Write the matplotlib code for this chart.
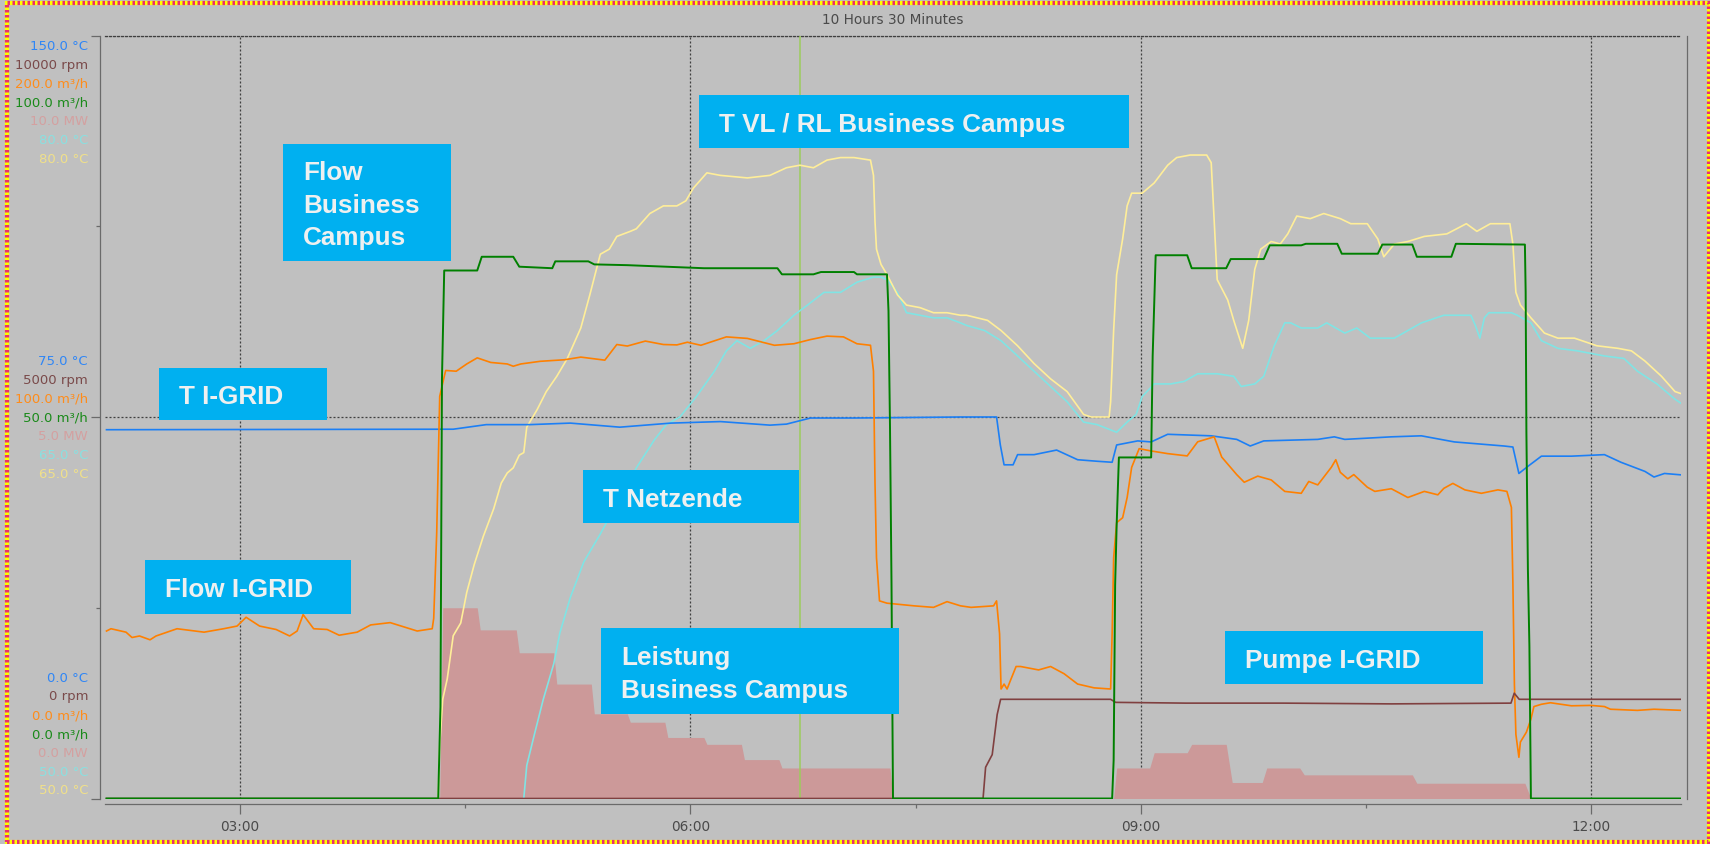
import matplotlib
matplotlib.use("Agg")
import matplotlib.pyplot as plt
from matplotlib.patches import Rectangle
from matplotlib.ticker import FixedLocator, FuncFormatter

W, H = 1710, 845
BG = '#c0c0c0'

# time window (hours of the day) and cursor position
t_start, t_end = 2.1, 12.6
cursor_time = 6.73

# one value scale per series: name, low, high, unit, label colour
axis_names = ['T I-GRID', 'Pumpe I-GRID', 'Flow I-GRID', 'Flow Business Campus',
              'Leistung Business Campus', 'T Netzende', 'T VL / RL Business Campus']
axis_lo = [0, 0, 0, 0, 0, 50, 50]
axis_hi = [150, 10000, 200, 100, 10, 80, 80]
axis_units = ['°C', 'rpm', 'm³/h', 'm³/h', 'MW', '°C', '°C']
label_colors = ['#2f86f6', '#7a4a4a', '#ff8c1a', '#1a8a1a', '#d4a0a0', '#8ae0e0', '#f0e08a']

# T I-GRID (°C)
blue_t = [2.11, 4.42, 4.64, 4.93, 5.20, 5.53, 5.87, 6.20, 6.53, 6.64, 6.80, 7.09, 7.80, 8.04,
          8.065, 8.09, 8.15, 8.18, 8.29, 8.44, 8.58, 8.71, 8.81, 8.84, 8.98, 9.07, 9.18, 9.47,
          9.64, 9.73, 9.82, 10.18, 10.29, 10.36, 10.67, 10.87, 11.09, 11.42, 11.48, 11.52,
          11.58, 11.67, 11.87, 12.09, 12.20, 12.36, 12.42, 12.49, 12.61]
blue_v = [72.5, 72.6, 73.5, 73.5, 73.8, 73.0, 73.8, 74.1, 73.4, 73.6, 74.8, 74.8, 75.0, 75.0,
          69.5, 65.6, 65.6, 67.6, 67.6, 68.5, 66.6, 66.3, 66.1, 69.5, 70.3, 70.1, 71.6, 71.3,
          70.6, 69.3, 70.3, 70.6, 71.1, 70.6, 71.1, 71.3, 70.1, 69.3, 69.1, 63.9,
          65.3, 67.3, 67.3, 67.6, 66.1, 64.3, 63.2, 63.9, 63.6]

# Flow I-GRID (m³/h)
orange_t = [2.11, 2.14, 2.24, 2.28, 2.33, 2.40, 2.44, 2.58, 2.64, 2.76, 2.89, 2.98, 3.04, 3.13,
            3.24, 3.33, 3.38, 3.42, 3.49, 3.58, 3.66, 3.78, 3.87, 4.00, 4.18, 4.28, 4.29, 4.31,
            4.32, 4.33, 4.36, 4.37, 4.44, 4.51, 4.58, 4.67, 4.78, 4.82, 4.87, 5.00, 5.16, 5.27,
            5.43, 5.51, 5.58, 5.70, 5.82, 5.91, 5.98, 6.07, 6.24, 6.38, 6.56, 6.69, 6.80, 6.91,
            7.02, 7.11, 7.20, 7.22, 7.23, 7.24, 7.26, 7.31, 7.49, 7.62, 7.71, 7.80, 7.87, 8.02,
            8.04, 8.06, 8.07, 8.09, 8.11, 8.13, 8.17, 8.20, 8.32, 8.40, 8.49, 8.58, 8.69, 8.80,
            8.81, 8.82, 8.84, 8.88, 8.91, 8.94, 8.99, 9.07, 9.18, 9.31, 9.38, 9.49, 9.54, 9.64,
            9.69, 9.78, 9.87, 9.96, 10.07, 10.12, 10.18, 10.27, 10.30, 10.33, 10.38, 10.42,
            10.51, 10.56, 10.67, 10.78, 10.89, 10.98, 11.02, 11.08, 11.16, 11.27, 11.38, 11.44,
            11.47, 11.48, 11.49, 11.50, 11.52, 11.53, 11.57, 11.60, 11.62, 11.67, 11.73, 11.87,
            12.00, 12.09, 12.13, 12.31, 12.42, 12.61]
orange_v = [43.9, 44.5, 43.6, 42.2, 42.6, 41.6, 42.6, 44.5, 44.2, 43.6, 44.5, 45.2, 47.5, 45.2,
            44.3, 42.6, 43.9, 48.2, 44.5, 44.3, 42.8, 43.6, 45.5, 46.1, 43.9, 44.5, 47.2, 69.7,
            88.2, 105.4, 110.6, 112.2, 112.0, 113.9, 115.5, 114.3, 113.9, 113.3, 113.9, 114.6, 115.0, 115.7,
            114.9, 119.0, 118.6, 119.9, 119.0, 118.9, 119.6, 118.8, 121.0, 120.6, 118.8, 119.2, 120.3, 121.2,
            121.0, 119.2, 118.8, 112.0, 82.9, 63.1, 51.8, 51.2, 50.5, 50.1, 51.6, 50.5, 50.1, 50.5,
            51.8, 43.2, 28.7, 30.0, 28.7, 30.7, 34.6, 34.6, 33.7, 34.6, 32.7, 30.0, 29.0, 28.7,
            43.2, 63.1, 72.3, 73.6, 78.9, 86.8, 91.7, 91.1, 90.4, 89.8, 93.5, 94.8, 89.5, 84.9,
            82.9, 84.5, 83.5, 80.5, 80.0, 83.1, 82.2, 86.8, 88.8, 85.5, 83.8, 84.9,
            81.6, 80.5, 81.2, 78.9, 80.5, 79.6, 81.3, 82.6, 80.9, 80.0, 80.9, 80.5,
            76.3, 56.4, 30.0, 16.8, 10.8, 14.8, 17.4, 20.8, 24.1, 24.7, 25.1, 24.3,
            24.4, 24.1, 23.4, 23.1, 23.4, 23.1]

# Flow Business Campus (m³/h)
green_t = [2.11, 4.32, 4.335, 4.345, 4.36, 4.58, 4.61, 4.82, 4.86, 5.08, 5.10, 5.32, 5.36, 5.58,
           6.09, 6.58, 6.61, 6.82, 6.87, 7.09, 7.11, 7.31, 7.32, 7.33, 7.34, 7.35, 8.81, 8.82,
           8.83, 8.84, 8.855, 9.07, 9.08, 9.10, 9.31, 9.34, 9.57, 9.60, 9.82, 9.86, 10.07, 10.10,
           10.31, 10.34, 10.58, 10.61, 10.81, 10.84, 11.07, 11.10, 11.56, 11.565, 11.57, 11.58,
           11.59, 11.60, 12.61]
green_v = [0, 0, 12, 55, 69.2, 69.2, 71.0, 71.0, 69.7, 69.5, 70.4, 70.4, 70.0, 69.9,
           69.5, 69.5, 68.7, 68.7, 69.0, 69.0, 68.7, 68.7, 63.9, 48.7, 28.2, 0, 0, 5,
           28, 35.8, 44.7, 44.7, 58, 71.2, 71.2, 69.5, 69.5, 70.7, 70.7, 72.5, 72.5, 72.7,
           72.7, 71.4, 71.4, 72.6, 72.6, 71.0, 71.0, 72.7, 72.6, 66.4, 48, 30,
           20, 0, 0]

# Pumpe I-GRID (rpm)
brown_t = [2.11, 7.95, 7.967, 8.011, 8.044, 8.067, 8.40, 8.80, 8.833, 9.30, 9.95, 10.67,
           11.467, 11.489, 11.522, 12.61]
brown_v = [0, 0, 410, 575, 1100, 1300, 1300, 1300, 1260, 1250, 1250, 1240,
           1250, 1380, 1300, 1300]

# Leistung Business Campus (MW)
power_t = [2.11, 4.33, 4.35, 4.58, 4.60, 4.84, 4.86, 5.09, 5.11, 5.34, 5.36, 5.58, 5.60, 5.83,
           5.85, 6.09, 6.11, 6.34, 6.36, 6.59, 6.61, 7.33, 7.35, 8.82, 8.84, 9.06, 9.09, 9.31,
           9.34, 9.57, 9.61, 9.81, 9.84, 10.06, 10.09, 10.81, 10.84, 11.56, 11.60, 12.61]
power_v = [0, 0, 2.50, 2.50, 2.21, 2.21, 1.91, 1.91, 1.50, 1.50, 1.11, 1.11, 1.00, 1.00,
           0.80, 0.80, 0.71, 0.71, 0.51, 0.51, 0.40, 0.40, 0, 0, 0.40, 0.40, 0.60, 0.60,
           0.71, 0.71, 0.21, 0.21, 0.40, 0.40, 0.31, 0.31, 0.20, 0.20, 0, 0]

# T Netzende (°C)
cyan_t = [4.89, 4.91, 4.96, 5.02, 5.09, 5.13, 5.20, 5.29, 5.40, 5.51, 5.64, 5.76, 5.84, 5.93,
          6.04, 6.16, 6.24, 6.31, 6.40, 6.49, 6.58, 6.69, 6.78, 6.89, 7.00, 7.11, 7.22, 7.27,
          7.31, 7.38, 7.44, 7.53, 7.62, 7.71, 7.80, 7.84, 7.96, 8.07, 8.18, 8.29, 8.40, 8.51,
          8.62, 8.71, 8.84, 8.91, 8.97, 9.01, 9.09, 9.20, 9.29, 9.38, 9.51, 9.62, 9.67, 9.76,
          9.82, 9.89, 9.96, 10.00, 10.07, 10.18, 10.24, 10.36, 10.44, 10.53, 10.69, 10.78,
          10.87, 11.02, 11.20, 11.23, 11.26, 11.29, 11.32, 11.47, 11.51, 11.60, 11.67, 11.78,
          11.91, 12.09, 12.22, 12.31, 12.44, 12.56, 12.61]
cyan_v = [50.0, 51.3, 52.5, 53.9, 55.3, 56.5, 57.9, 59.3, 60.4, 61.6, 63.0, 64.1, 64.7, 65.0,
          65.8, 66.8, 67.6, 68.0, 67.7, 68.0, 68.4, 69.0, 69.4, 69.9, 69.9, 70.3, 70.5, 70.5,
          70.4, 69.9, 69.1, 69.0, 68.9, 68.9, 68.7, 68.6, 68.4, 68.0, 67.4, 66.8, 66.2, 65.6,
          64.8, 64.7, 64.4, 64.8, 65.1, 65.8, 66.3, 66.3, 66.4, 66.7, 66.7, 66.6, 66.2, 66.3,
          66.6, 67.8, 68.7, 68.7, 68.5, 68.5, 68.7, 68.3, 68.5, 68.1, 68.1, 68.4,
          68.7, 69.0, 69.0, 68.6, 68.1, 68.9, 69.1, 69.1, 69.0, 68.7, 68.0, 67.7,
          67.6, 67.4, 67.3, 66.8, 66.3, 65.7, 65.5]

# T VL / RL Business Campus (°C)
yellow_t = [4.32, 4.33, 4.35, 4.38, 4.42, 4.47, 4.51, 4.56, 4.62, 4.69, 4.74, 4.78, 4.82, 4.86,
            4.89, 4.91, 4.98, 5.04, 5.11, 5.18, 5.27, 5.33, 5.40, 5.46, 5.51, 5.60, 5.64, 5.73,
            5.82, 5.91, 5.97, 6.02, 6.11, 6.20, 6.38, 6.53, 6.64, 6.73, 6.82, 6.91, 7.00, 7.09,
            7.20, 7.22, 7.23, 7.24, 7.27, 7.31, 7.38, 7.44, 7.53, 7.62, 7.71, 7.80, 7.84, 7.98,
            8.07, 8.18, 8.29, 8.40, 8.51, 8.62, 8.67, 8.79, 8.80, 8.82, 8.84, 8.88, 8.91, 8.94,
            9.01, 9.09, 9.18, 9.24, 9.33, 9.44, 9.47, 9.49, 9.51, 9.58, 9.62, 9.68, 9.72, 9.76,
            9.80, 9.87, 9.93, 9.98, 10.04, 10.13, 10.22, 10.33, 10.40, 10.51, 10.58, 10.62,
            10.69, 10.78, 10.89, 11.04, 11.17, 11.24, 11.33, 11.46, 11.48, 11.50, 11.53, 11.60,
            11.69, 11.78, 11.89, 12.04, 12.18, 12.27, 12.36, 12.47, 12.56, 12.61]
yellow_v = [50.0, 52.1, 53.9, 54.7, 56.4, 56.9, 58.1, 59.2, 60.3, 61.4, 62.4, 62.8, 63.0, 63.5,
            63.6, 64.6, 65.3, 66.0, 66.6, 67.3, 68.5, 69.8, 71.4, 71.6, 72.1, 72.3, 72.4, 73.0,
            73.3, 73.3, 73.5, 74.0, 74.6, 74.5, 74.4, 74.5, 74.8, 74.9, 74.8, 75.1, 75.2, 75.2,
            75.1, 74.5, 72.7, 71.6, 71.0, 70.6, 69.8, 69.4, 69.3, 69.1, 69.1, 69.0, 69.0, 68.8,
            68.4, 67.8, 67.1, 66.5, 66.0, 65.1, 65.0, 65.0, 65.6, 68.4, 70.6, 72.0, 73.3, 73.8,
            73.8, 74.2, 74.9, 75.2, 75.3, 75.3, 75.0, 72.7, 70.4, 69.6, 68.8, 67.7, 68.8, 70.8,
            71.6, 71.9, 71.8, 72.2, 72.9, 72.8, 73.0, 72.8, 72.6, 72.6, 72.0, 71.3,
            71.8, 71.9, 72.1, 72.2, 72.6, 72.3, 72.6, 72.6, 71.8, 69.9, 69.4, 68.9,
            68.3, 68.1, 68.1, 67.8, 67.7, 67.6, 67.2, 66.6, 66.0, 65.9]

# text boxes: lines, left, top, right, bottom (pixels)
boxes = [
    (['Flow', 'Business', 'Campus'], 283, 145, 451, 262),
    (['T VL / RL Business Campus'], 699, 95.5, 1129, 149),
    (['T I-GRID'], 159, 369, 327, 420.5),
    (['T Netzende'], 583, 471, 799, 524),
    (['Flow I-GRID'], 145, 561, 351, 614.5),
    (['Leistung', 'Business Campus'], 601, 629, 899, 715),
    (['Pumpe I-GRID'], 1225, 632, 1483, 685),
]


def fx(px):
    return px / W


def fy(py):
    return 1 - py / H


def hhmm(h, pos=None):
    return f"{int(h):02d}:{int(round((h % 1) * 60)):02d}"


fig = plt.figure(figsize=(W / 100, H / 100), dpi=100, facecolor=BG)
ax = fig.add_axes([fx(105), fy(799.5), 1576 / W, 763 / H])
ax.set_facecolor(BG)
ax.set_xlim(t_start, t_end)
ax.set_ylim(0, 1)

# axes frame
grid_ls = (0, (1.6, 1.6))
for side in ['left', 'right', 'bottom']:
    ax.spines[side].set_color('#6a6a6a')
    ax.spines[side].set_linewidth(0.9)
ax.spines['left'].set_position(('outward', 3.6))
ax.spines['right'].set_position(('outward', 4.3))
ax.spines['bottom'].set_position(('outward', 4))
ax.spines['top'].set_linestyle(grid_ls)
ax.spines['top'].set_color('#404040')
ax.spines['top'].set_linewidth(0.9)

ax.xaxis.set_major_locator(FixedLocator([3, 6, 9, 12]))
ax.xaxis.set_minor_locator(FixedLocator([4.5, 7.5, 10.5]))
ax.xaxis.set_major_formatter(FuncFormatter(hhmm))
ax.yaxis.set_major_locator(FixedLocator([0, 0.5, 1]))
ax.yaxis.set_minor_locator(FixedLocator([0.25, 0.75]))
ax.tick_params(axis='x', which='major', direction='out', length=7, width=0.9,
               color='#6a6a6a', labelsize=9.8, labelcolor='#4a4a4a', pad=4)
ax.tick_params(axis='x', which='minor', direction='out', length=3.2, width=0.9, color='#6a6a6a')
ax.tick_params(axis='y', which='major', direction='out', length=6.5, width=0.9, color='#6a6a6a',
               left=True, right=True, labelleft=False, labelright=False)
ax.tick_params(axis='y', which='minor', direction='out', length=3, width=0.9, color='#6a6a6a',
               left=True, right=True)
ax.grid(True, which='major', color='#404040', linestyle=grid_ls, linewidth=0.9)


def twin(i):
    tw = ax.twinx()
    tw.set_ylim(axis_lo[i], axis_hi[i])
    tw.set_xlim(t_start, t_end)
    tw.axis('off')
    return tw


# power area with the cursor above it
tw_p = twin(4)
tw_p.fill_between(power_t, 0, power_v, color='#cc9999', linewidth=0)
tw_p.axvline(cursor_time, color='#9ccc5c', linewidth=1.1)

twin(5).plot(cyan_t, cyan_v, color='#80e4e4', linewidth=1.2)
twin(6).plot(yellow_t, yellow_v, color='#ffee99', linewidth=1.2)
twin(0).plot(blue_t, blue_v, color='#1c7ff5', linewidth=1.2)
twin(2).plot(orange_t, orange_v, color='#ff8000', linewidth=1.2)
twin(1).plot(brown_t, brown_v, color='#804040', linewidth=1.2)
twin(3).plot(green_t, green_v, color='#008000', linewidth=1.4)

# stacked scale labels on the left
step = 18.8
groups = [(1.0, 46.7), (0.5, 418.0 - 3 * step), (0.0, 791.0 - 6 * step)]
for frac, y0 in groups:
    for i in range(len(axis_names)):
        val = axis_lo[i] + frac * (axis_hi[i] - axis_lo[i])
        txt = f"{val:.0f} {axis_units[i]}" if axis_units[i] == 'rpm' else f"{val:.1f} {axis_units[i]}"
        fig.text(fx(88), fy(y0 + i * step), txt, ha='right', va='center',
                 color=label_colors[i], fontsize=9.5)

span = t_end - t_start
fig.text(fx(893), fy(20), f"{int(span)} Hours {int(round((span % 1) * 60))} Minutes",
         ha='center', va='center', color='#4a4a4a', fontsize=9.8)

# annotation boxes
for lines, x0, y0, x1, y1 in boxes:
    fig.add_artist(Rectangle((fx(x0), fy(y1)), (x1 - x0) / W, (y1 - y0) / H,
                             transform=fig.transFigure, facecolor='#00b0f0',
                             edgecolor='none', zorder=5))
    yc = (y0 + y1) / 2
    n = len(lines)
    for k, line in enumerate(lines):
        ycap = yc + (k - (n - 1) / 2) * 32.7
        fig.text(fx(x0 + 20), fy(ycap + 9.3), line, ha='left', va='baseline',
                 color='#eef0f0', fontsize=18.8, fontweight='bold',
                 family='Liberation Sans', zorder=6)

# zigzag border
fig.add_artist(Rectangle((fx(7), fy(842.5)), (1708.5 - 7) / W, (842.5 - 4) / H,
                         transform=fig.transFigure, fill=False, edgecolor='#ffff00',
                         linewidth=3, zorder=20))
fig.add_artist(Rectangle((fx(7), fy(842.5)), (1708.5 - 7) / W, (842.5 - 4) / H,
                         transform=fig.transFigure, fill=False, edgecolor='#e8306e',
                         linewidth=3, linestyle=(0, (0.6, 0.6)), zorder=21))

fig.savefig('out.png', dpi=100, facecolor=BG)
